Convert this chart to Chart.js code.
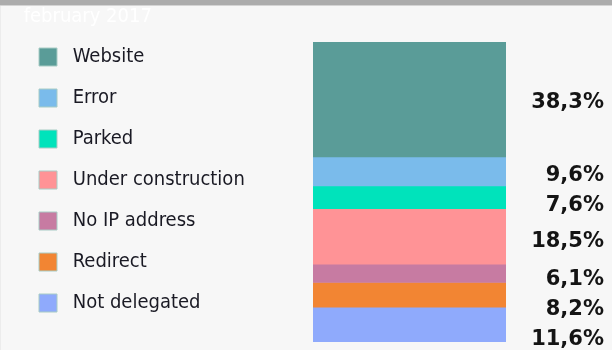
<!DOCTYPE html>
<html>
<head>
<meta charset="utf-8">
<script src="https://cdn.jsdelivr.net/npm/chart.js@4/dist/chart.umd.min.js"></script>
<style>
  html, body { margin: 0; padding: 0; background: #f7f7f7; }
  canvas { display: block; }
</style>
</head>
<body>
<canvas id="c" width="612" height="350"></canvas>
<script>
// ---- data ----
const chartTitle = 'february 2017';
const categories = ['Website', 'Error', 'Parked', 'Under construction', 'No IP address', 'Redirect', 'Not delegated'];
const shares = [38.3, 9.6, 7.6, 18.5, 6.1, 8.2, 11.6];
const shareLabels = ['38,3%', '9,6%', '7,6%', '18,5%', '6,1%', '8,2%', '11,6%'];
const colors = ['#5a9c98', '#7abbeb', '#00e3bb', '#ff9396', '#c77ba2', '#f28533', '#8faafc'];

const FONT = "'DejaVu Sans Condensed', 'DejaVu Sans', sans-serif";
const total = shares.reduce((a, b) => a + b, 0);
const PAD_LEFT = 18;
const BAR_LEFT = 313;

const bgPlugin = {
  id: 'bg',
  beforeDraw(chart) {
    const { ctx, width, height } = chart;
    ctx.save();
    ctx.fillStyle = '#f7f7f7';
    ctx.fillRect(0, 0, width, height);
    ctx.fillStyle = '#acacac';
    ctx.fillRect(0, 0, width, 5);
    ctx.fillStyle = '#d4d4d4';
    ctx.fillRect(0, 5, width, 1);
    ctx.fillStyle = '#ececec';
    ctx.fillRect(0, 6, 1, height - 6);
    ctx.restore();
  }
};

// value labels to the right of the stacked bar, pushed apart when crowded
const labelPlugin = {
  id: 'sideLabels',
  afterDatasetsDraw(chart) {
    const { ctx, chartArea } = chart;
    ctx.save();
    ctx.font = "bold 21px 'DejaVu Sans', sans-serif";
    ctx.fillStyle = '#141414';
    ctx.textAlign = 'right';
    ctx.textBaseline = 'middle';
    let prev = -Infinity;
    chart.data.datasets.forEach((ds, i) => {
      const el = chart.getDatasetMeta(i).data[0];
      const c = (el.y + el.base) / 2;
      const natural = chartArea.top + (c - chartArea.top) * 1.02 + 1.5;
      const y = Math.max(natural, prev + 30);
      prev = y;
      ctx.fillText(shareLabels[i], chart.width - 8, y);
    });
    ctx.restore();
  }
};

new Chart(document.getElementById('c'), {
  type: 'bar',
  data: {
    labels: [''],
    datasets: categories.map((name, i) => ({
      label: name,
      data: [shares[i]],
      backgroundColor: colors[i],
      borderWidth: 0,
      categoryPercentage: 1,
      barPercentage: 1
    }))
  },
  options: {
    responsive: false,
    animation: false,
    devicePixelRatio: 1,
    layout: { padding: { left: PAD_LEFT, right: 106, top: 0, bottom: 8 } },
    plugins: {
      title: {
        display: true,
        text: ' ' + chartTitle,
        align: 'start',
        color: '#ffffff',
        font: { family: FONT, size: 20, weight: 'normal', lineHeight: 1.2 },
        padding: { top: 5, bottom: 13 }
      },
      legend: {
        position: 'left',
        align: 'start',
        maxWidth: 290,
        title: { display: true, text: '', padding: 0, font: { size: 20, lineHeight: 1.3 } },
        labels: {
          boxWidth: 18,
          boxHeight: 18,
          padding: 21,
          color: '#1a1a24',
          font: { family: FONT, size: 20 },
          generateLabels: (chart) =>
            Chart.defaults.plugins.legend.labels.generateLabels(chart).map(it => ({
              ...it, text: ' ' + it.text, strokeStyle: '#a8ccc5', lineWidth: 1
            }))
        }
      },
      tooltip: { enabled: false }
    },
    scales: {
      x: { stacked: true, display: false },
      y: {
        stacked: true,
        reverse: true,
        min: 0,
        max: total,
        ticks: { display: false },
        grid: { display: false },
        border: { display: false },
        afterFit: (s) => {
          const lw = s.chart.legend ? s.chart.legend.width : 0;
          s.width = Math.max(0, BAR_LEFT - PAD_LEFT - lw);
        }
      }
    }
  },
  plugins: [bgPlugin, labelPlugin]
});
</script>
</body>
</html>
